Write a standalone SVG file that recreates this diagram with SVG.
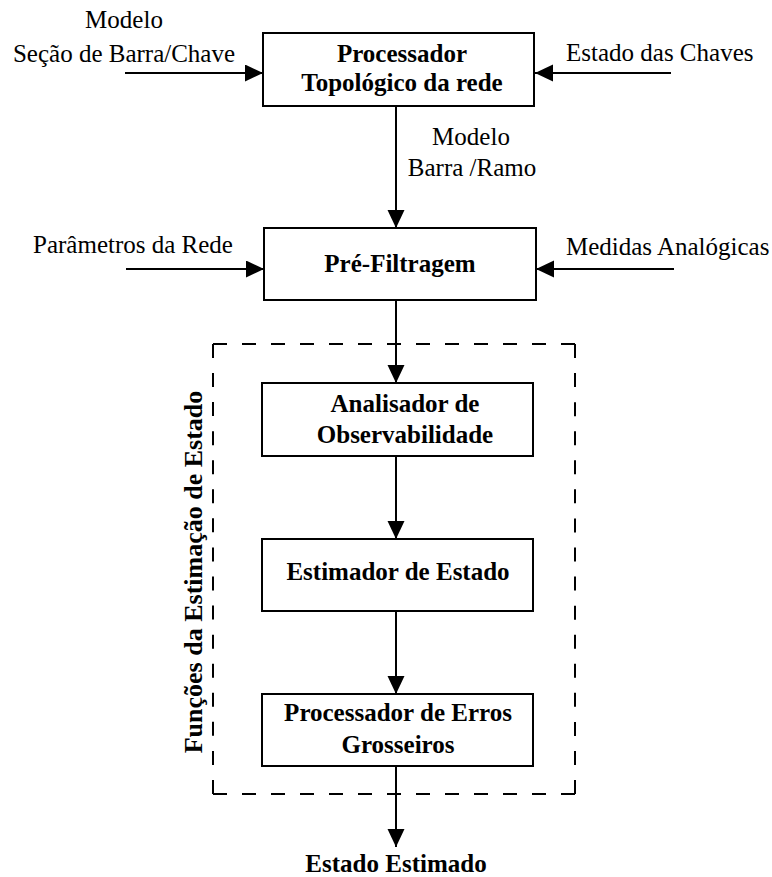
<svg xmlns="http://www.w3.org/2000/svg" width="772" height="877" viewBox="0 0 772 877">
  <style>
    .box { fill: #fff; stroke: #000; stroke-width: 2; }
    .edge { fill: none; stroke: #000; stroke-width: 2; }
    .dash { fill: none; stroke: #000; stroke-width: 2; }
    .lbl { font-family: "Liberation Serif", "Times New Roman", serif; font-size: 25px; fill: #000; }
    .bold { font-weight: bold; }
    .mid { text-anchor: middle; }
  </style>
  <defs>
    <marker id="arrow" markerUnits="userSpaceOnUse" markerWidth="19" markerHeight="18" refX="18" refY="8.5" orient="auto">
      <path d="M0,0 L18,8.5 L0,17 Z" fill="#000"/>
    </marker>
  </defs>
  <rect width="772" height="877" fill="#fff"/>

  <!-- dashed frame around the estimation functions -->
  <g id="estimation-frame">
    <path class="dash" d="M213,344 H575" stroke-dasharray="14 15"/>
    <path class="dash" d="M575,344 V794" stroke-dasharray="14 15.07"/>
    <path class="dash" d="M575,794 H213" stroke-dasharray="14 15"/>
    <path class="dash" d="M213,794 V344" stroke-dasharray="14 15.07"/>
    <text class="lbl bold mid" font-size="26" transform="translate(202,572) rotate(-90)" style="font-size:26px">Funções da Estimação de Estado</text>
  </g>

  <!-- connectors -->
  <g id="connectors">
    <path class="edge" d="M125,73 H263" marker-end="url(#arrow)"/>
    <path class="edge" d="M671,73 H535" marker-end="url(#arrow)"/>
    <path class="edge" d="M396,106 V228" marker-end="url(#arrow)"/>
    <path class="edge" d="M126,269 H264" marker-end="url(#arrow)"/>
    <path class="edge" d="M674,269 H536" marker-end="url(#arrow)"/>
    <path class="edge" d="M396,300 V383" marker-end="url(#arrow)"/>
    <path class="edge" d="M396,456 V539" marker-end="url(#arrow)"/>
    <path class="edge" d="M396,611 V694" marker-end="url(#arrow)"/>
    <path class="edge" d="M396,766 V847" marker-end="url(#arrow)"/>
  </g>

  <!-- input and output labels -->
  <g id="labels">
    <text class="lbl mid" x="124" y="28">Modelo</text>
    <text class="lbl mid" x="124" y="62">Seção de Barra/Chave</text>
    <text class="lbl" x="566" y="61">Estado das Chaves</text>
    <text class="lbl mid" x="471" y="145">Modelo</text>
    <text class="lbl mid" x="472" y="176">Barra /Ramo</text>
    <text class="lbl mid" x="133" y="253">Parâmetros da Rede</text>
    <text class="lbl" x="566" y="255">Medidas Analógicas</text>
    <text class="lbl bold mid" x="396" y="872">Estado Estimado</text>
  </g>

  <g id="processador-topologico">
    <rect class="box" x="263" y="33" width="271" height="73"/>
    <text class="lbl bold mid" x="402" y="62">Processador</text>
    <text class="lbl bold mid" x="402" y="91">Topológico da rede</text>
  </g>

  <g id="pre-filtragem">
    <rect class="box" x="264" y="228" width="272" height="72"/>
    <text class="lbl bold mid" x="400" y="272">Pré-Filtragem</text>
  </g>

  <g id="analisador-observabilidade">
    <rect class="box" x="262" y="383" width="271" height="73"/>
    <text class="lbl bold mid" x="405" y="412">Analisador de</text>
    <text class="lbl bold mid" x="405" y="443">Observabilidade</text>
  </g>

  <g id="estimador-estado">
    <rect class="box" x="262" y="539" width="271" height="72"/>
    <text class="lbl bold mid" x="398" y="580">Estimador de Estado</text>
  </g>

  <g id="processador-erros">
    <rect class="box" x="262" y="694" width="271" height="72"/>
    <text class="lbl bold mid" x="398" y="721">Processador de Erros</text>
    <text class="lbl bold mid" x="398" y="753">Grosseiros</text>
  </g>
</svg>
